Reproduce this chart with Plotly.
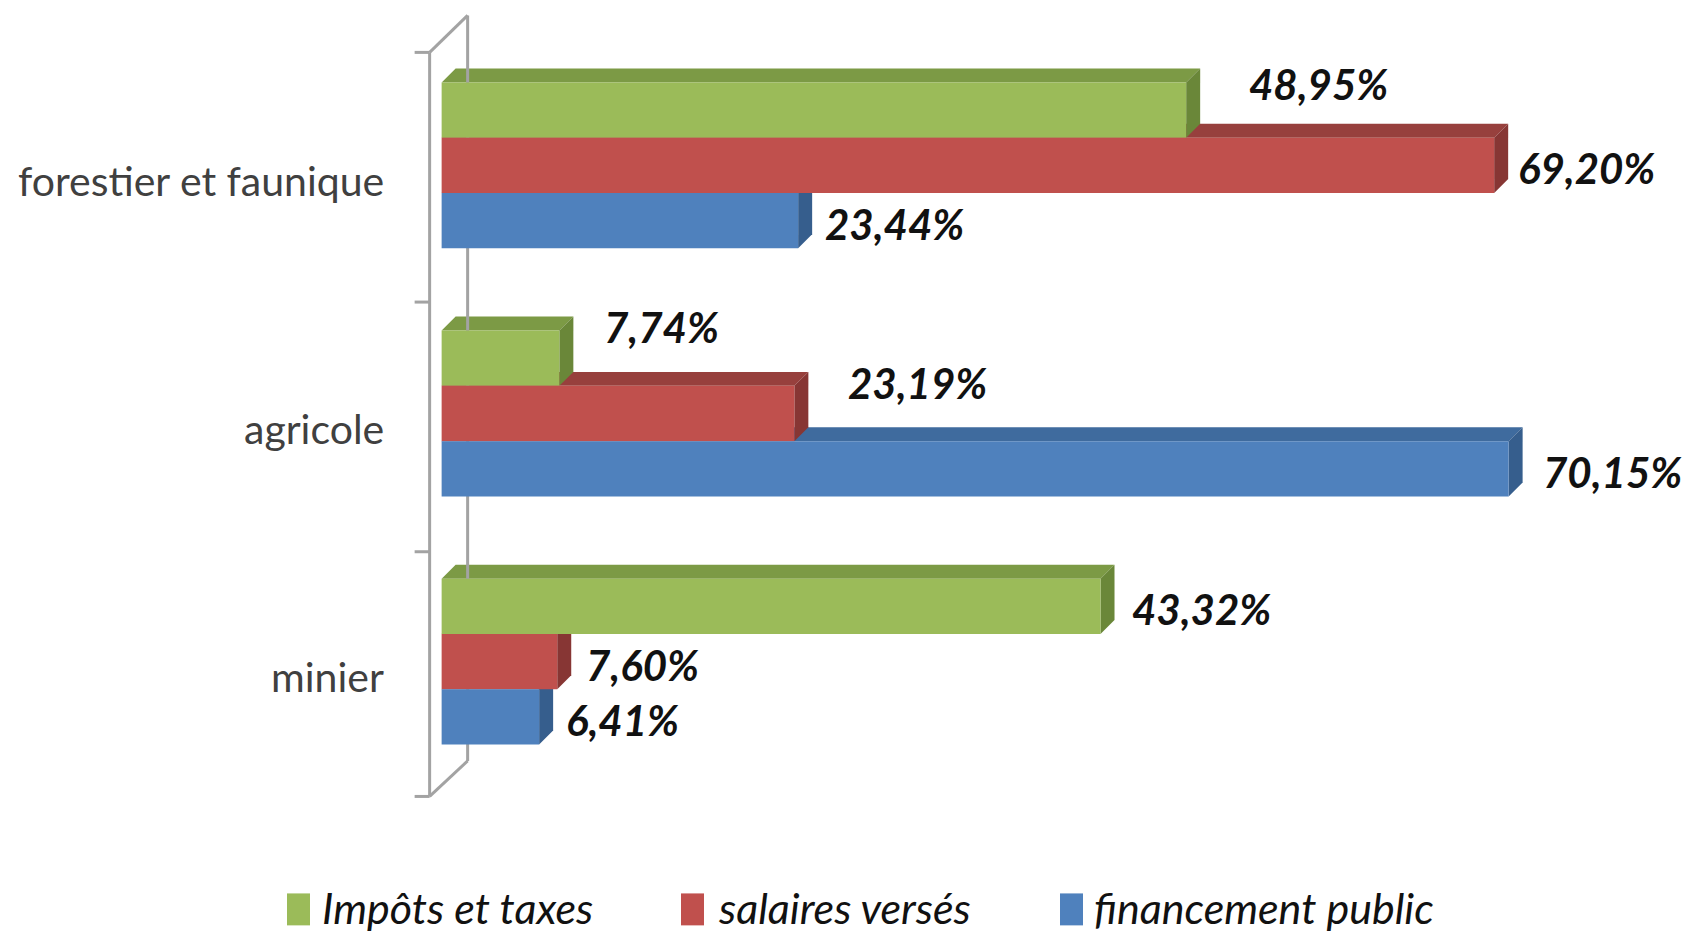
import plotly.graph_objects as go
import numpy as np

# ---- data ----
categories = ["forestier et faunique", "agricole", "minier"]
series_names = ["Impôts et taxes", "salaires versés", "financement public"]
impots = [48.95, 7.74, 43.32]
salaires = [69.20, 23.19, 7.60]
financement = [23.44, 70.15, 6.41]

# ---- styles ----
front_colors = ["#9BBB59", "#C0504D", "#4F81BD"]
top_colors = ["#7C9A45", "#97403D", "#3F6B9E"]
side_colors = ["#6A8739", "#873634", "#365E8D"]
# label pixel nudges (x, y) per series per category
label_dx = [[61, 43, 29], [22, 52, 27], [25, 32, 25]]
label_dy = [[26, 31, -3], [-3, 31, -3], [-3, -3, -3]]
# legend layout (pixels): swatch left edge, text left edge
legend_swatch_px = [287, 681, 1060]
legend_text_px = [320, 716, 1092]
legend_y_px = 908

series = [impots, salaires, financement]

# ---- geometry ----
W, H = 1682, 940
ML, MR = 396, 0
XR = [-3, 81.55]
YR = [2.65, -0.65]
MT = 3.5
plot_h = 820
MB = H - MT - plot_h
plot_w = W - ML - MR
px_x = plot_w / (XR[1] - XR[0])
px_y = plot_h / (YR[0] - YR[1])


def paper_x(px):
    return (px - ML) / plot_w


def paper_y(py):
    return (H - MB - py) / plot_h


ypos = np.arange(len(categories))
bw = 0.2227
offsets = [-1.5 * bw + i * bw for i in range(3)]
depth = 14
dx = depth / px_x
dy = depth / px_y

fig = go.Figure()
shapes = []

# top faces
for i, vals in enumerate(series):
    for k, v in enumerate(vals):
        top = ypos[k] + offsets[i]
        path = f"M 0 {top} L {dx} {top-dy} L {v+dx} {top-dy} L {v} {top} Z"
        shapes.append(dict(type="path", path=path, xref="x", yref="y",
                           fillcolor=top_colors[i], line=dict(width=0), layer="below"))
# side faces
for i, vals in enumerate(series):
    for k, v in enumerate(vals):
        top = ypos[k] + offsets[i]
        bot = top + bw
        path = f"M {v} {top} L {v+dx} {top-dy} L {v+dx} {bot-dy} L {v} {bot} Z"
        shapes.append(dict(type="path", path=path, xref="x", yref="y",
                           fillcolor=side_colors[i], line=dict(width=0), layer="below"))

# wall / axis lines (decoration)
wall_col = "#A3A3A3"
fx = -12 / px_x
tx = -27 / px_x
bx = 26 / px_x
f_top, f_bot = -0.455, 2.543
b_top, b_bot = -0.604, 2.40
ticks = [-0.455, 0.551, 1.557, 2.543]
line = dict(color=wall_col, width=3)
shapes.append(dict(type="line", x0=fx, x1=fx, y0=f_top, y1=f_bot, xref="x", yref="y", line=line, layer="below"))
shapes.append(dict(type="line", x0=bx, x1=bx, y0=b_top, y1=b_bot, xref="x", yref="y", line=line, layer="below"))
shapes.append(dict(type="line", x0=fx, x1=bx, y0=f_top, y1=b_top, xref="x", yref="y", line=line, layer="below"))
shapes.append(dict(type="line", x0=fx, x1=bx, y0=f_bot, y1=b_bot, xref="x", yref="y", line=line, layer="below"))
for t in ticks:
    shapes.append(dict(type="line", x0=tx, x1=fx, y0=t, y1=t, xref="x", yref="y", line=line, layer="below"))

for i, vals in enumerate(series):
    fig.add_trace(go.Bar(
        x=vals, y=ypos, orientation="h", name=series_names[i],
        width=bw, offset=offsets[i],
        marker=dict(color=front_colors[i], line=dict(width=0)),
        hoverinfo="skip", showlegend=False,
    ))

annotations = []
for i, vals in enumerate(series):
    for k, v in enumerate(vals):
        yc = ypos[k] + offsets[i] + bw / 2
        annotations.append(dict(
            x=v, y=yc, xref="x", yref="y", xanchor="left", yanchor="middle",
            xshift=label_dx[i][k], yshift=label_dy[i][k],
            text=f"{v:.2f}".replace(".", ",") + "%", showarrow=False,
            font=dict(family="Lato", size=42, color="#111111", weight="bold", style="italic"),
        ))
for k, c in enumerate(categories):
    annotations.append(dict(
        x=0, y=ypos[k], xref="paper", yref="y", xanchor="right", yanchor="middle",
        xshift=-10, yshift=-15, text=c, showarrow=False,
        font=dict(family="Lato", size=41, color="#404040"),
    ))

# legend (drawn manually for larger swatches)
for i, name in enumerate(series_names):
    shapes.append(dict(type="rect", xref="paper", yref="paper",
                       x0=paper_x(legend_swatch_px[i]), x1=paper_x(legend_swatch_px[i] + 23),
                       y0=paper_y(legend_y_px - 14), y1=paper_y(legend_y_px + 18),
                       fillcolor=front_colors[i], line=dict(width=0)))
    annotations.append(dict(
        x=paper_x(legend_text_px[i]), y=paper_y(legend_y_px), xref="paper", yref="paper",
        xanchor="left", yanchor="middle", text=name, showarrow=False,
        font=dict(family="Lato", size=43, color="#111111", style="italic"),
    ))

fig.update_layout(
    width=W, height=H,
    margin=dict(l=ML, r=MR, t=MT, b=MB, autoexpand=False),
    plot_bgcolor="white", paper_bgcolor="white",
    barmode="group",
    xaxis=dict(range=XR, visible=False, showgrid=False, zeroline=False),
    yaxis=dict(range=YR, visible=False, showgrid=False, zeroline=False),
    shapes=shapes, annotations=annotations,
    showlegend=False,
)
fig.write_html("out.html", config={"displayModeBar": False},
               post_script="document.body.style.margin='0';document.body.style.overflow='hidden';")
